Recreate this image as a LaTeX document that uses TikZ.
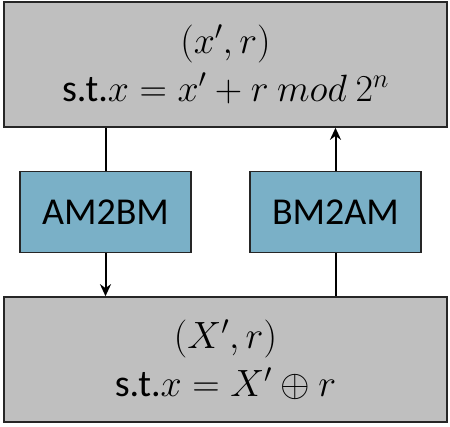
\RequirePackage{fix-cm}
\documentclass[tikz,border=0pt]{standalone}
\usepackage{fontspec}
\setmainfont{Carlito}
\usetikzlibrary{arrows.meta}
\definecolor{boxgray}{RGB}{191,191,191}
\definecolor{convblue}{RGB}{122,176,199}
\begin{document}
\begin{tikzpicture}[x=1pt, y=1pt, >={Stealth[length=12pt,width=11pt]}]
    \useasboundingbox (0,0) rectangle (450,426);
    \tikzset{
        sharebox/.style={draw=black!85, line width=1.6pt, fill=boxgray, minimum width=443pt, minimum height=125pt, inner sep=0pt, align=center, font=\fontsize{38}{48}\selectfont},
        convbox/.style={draw=black!85, line width=1.4pt, fill=convblue, minimum width=171pt, minimum height=81pt, inner sep=0pt, font=\fontsize{38}{44}\selectfont},
        flow/.style={line width=2pt}
    }

    % --- Arithmetic share (top) ---
    \node[sharebox] (arith) at (225.5,361.5) {$(x',r)$\\s.t.$x = x' + r\ mod\ 2^n$};

    % --- Boolean share (bottom) ---
    \node[sharebox] (bool) at (225.5,66.5) {$(X',r)$\\s.t.$x = X' \oplus r$};

    % --- Conversion boxes ---
    \node[convbox] (amtobm) at (105.5,214) {AM2BM};
    \node[convbox] (bmtoam) at (335.5,214) {BM2AM};

    % --- Left path: arithmetic -> boolean ---
    \draw[flow] (arith.south -| amtobm) -- (amtobm.north);
    \draw[flow, ->] (amtobm.south) -- (bool.north -| amtobm);

    % --- Right path: boolean -> arithmetic ---
    \draw[flow] (bool.north -| bmtoam) -- (bmtoam.south);
    \draw[flow, ->] (bmtoam.north) -- (arith.south -| bmtoam);
\end{tikzpicture}
\end{document}
